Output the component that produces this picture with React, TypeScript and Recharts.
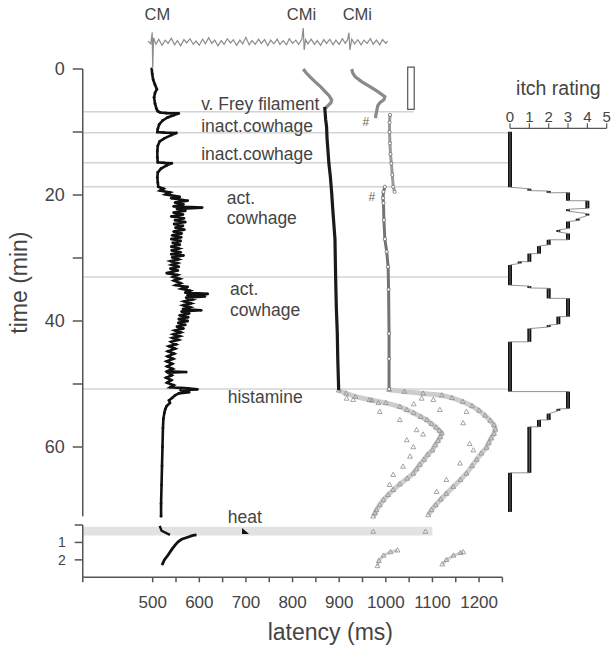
import React from 'react';
import {
    ScatterChart,
    Scatter,
    XAxis,
    YAxis,
    ReferenceLine,
    ReferenceArea,
    ReferenceDot,
} from 'recharts';

const FONT = '"Liberation Sans", Arial, Helvetica, sans-serif';
const TEXT = '#444';
const AXIS = '#555';

// [time (min), latency (ms)]
const cmMain: [number, number][] = [
    [0, 498], [0.8, 499], [1.7, 501], [2.5, 505], [3.2, 509], [3.8, 505], [4.5, 503], [5.5, 505],
    [6.3, 508], [6.7, 511], [6.9, 516], [7.0, 530], [7.05, 556], [7.3, 546], [7.7, 532], [8.2, 521],
    [8.8, 514], [9.5, 511], [10.0, 510], [10.1, 525], [10.15, 551], [10.5, 540], [11.0, 525], [11.5, 515],
    [12.2, 511], [13, 510], [14, 510], [14.8, 511], [14.9, 525], [14.95, 541], [15.3, 530], [15.8, 518],
    [16.4, 511], [17.2, 510], [18, 511], [18.7, 512],
    [19.0, 523], [19.3, 516], [19.6, 537], [19.9, 528], [20.3, 558], [20.5, 540], [20.9, 575], [21.2, 548],
    [21.5, 566], [21.8, 545], [22.0, 606], [22.2, 552], [22.5, 570], [22.8, 545], [23.1, 565], [23.4, 540],
    [23.7, 567], [24.0, 548], [24.3, 570], [24.6, 546], [24.9, 565], [25.2, 549], [25.5, 568], [25.8, 545],
    [26.1, 562], [26.4, 542], [26.7, 561], [27.0, 540], [27.3, 560], [27.6, 543], [27.9, 558], [28.2, 540],
    [28.5, 556], [28.8, 541], [29.1, 560], [29.4, 540], [29.6, 566], [29.9, 542], [30.2, 555], [30.5, 539],
    [30.8, 553], [31.1, 541], [31.4, 556], [31.7, 538], [32.0, 554], [32.4, 530], [32.7, 553], [33.0, 544],
    [33.3, 558], [33.6, 546], [34.0, 560], [34.3, 550], [34.6, 575], [34.9, 562], [35.2, 580], [35.5, 570],
    [35.7, 618], [35.9, 575], [36.1, 612], [36.3, 572], [36.6, 585], [36.9, 568], [37.2, 582], [37.5, 566],
    [37.8, 580], [38.1, 565], [38.3, 604], [38.5, 562], [38.8, 578], [39.1, 558], [39.4, 576], [39.7, 556],
    [40.0, 575], [40.3, 555], [40.6, 570], [40.9, 552], [41.2, 566], [41.5, 548], [41.8, 560], [42.1, 545],
    [42.4, 558], [42.7, 543], [43.0, 555], [43.3, 540], [43.7, 550], [44.0, 535], [44.4, 548], [44.8, 533],
    [45.2, 546], [45.6, 532], [46.0, 544], [46.4, 530], [46.8, 542], [47.2, 531], [47.6, 543], [48.0, 530],
    [48.1, 572], [48.2, 533], [48.6, 541], [49.0, 529], [49.4, 540], [49.8, 531], [50.2, 545], [50.5, 538],
    [50.7, 575], [50.85, 596], [51.0, 560],
    [51.3, 578], [51.5, 556], [51.8, 548], [52.2, 542], [52.6, 535], [53.0, 537], [53.5, 530], [54.0, 527],
    [54.6, 525], [55.5, 523], [57, 522], [60, 521], [63, 520], [66, 519], [69, 518], [71, 518],
];

const cmi1Early: [number, number][] = [
    [0, 823], [0.6, 829], [1.2, 837], [2.0, 848], [2.8, 860], [3.5, 869], [4.2, 878], [4.9, 884],
    [5.4, 882], [5.8, 876], [6.2, 871],
];
const cmi1Late: [number, number][] = [
    [6.0, 869], [7, 870], [8, 871], [9.2, 873], [11, 874], [13, 876], [15, 878], [17, 881], [19.7, 884],
    [22, 886], [25, 889], [27, 891], [31.4, 892], [35, 893], [38, 894], [42, 896], [46, 897], [51, 899],
];
const cmi2Early: [number, number][] = [
    [0, 927], [0.6, 929], [1.2, 934], [2.0, 948], [2.8, 966], [3.6, 983], [4.4, 998], [4.9, 996],
    [5.3, 988], [5.8, 983], [6.5, 981], [7.2, 979], [7.8, 978],
];
const cmi2Mid: [number, number][] = [
    [7.3, 1009], [8.5, 1008], [10, 1008], [11.8, 1009], [13.5, 1010], [15, 1012], [16.8, 1014],
    [18.7, 1016], [19.5, 1019],
];
const cmi2Late: [number, number][] = [
    [18.7, 998], [19.5, 995], [20.5, 994], [21.3, 995], [24, 996], [27, 998], [29, 1002], [31.4, 1005],
    [35, 1006], [42, 1007], [46, 1007], [50.8, 1007],
];
const histA: [number, number][] = [
    [51.0, 899], [51.5, 915], [52.0, 935], [52.5, 965], [53.0, 1000], [53.6, 1030], [54.1, 1045],
    [54.6, 1060], [55.2, 1075], [55.7, 1088], [56.3, 1098], [56.9, 1108], [57.4, 1115], [57.8, 1120],
    [58.4, 1117], [59.0, 1112], [59.7, 1106], [60.5, 1100], [61.2, 1090], [62.0, 1082], [62.8, 1073],
    [63.5, 1066], [64.2, 1059], [65.0, 1046], [65.9, 1030], [66.8, 1016], [67.6, 1005], [68.4, 995],
    [69.2, 987], [70.0, 980], [70.5, 977], [71.0, 973],
];
const histB: [number, number][] = [
    [50.9, 1007], [51.2, 1040], [51.5, 1080], [51.8, 1120], [52.2, 1142], [52.8, 1165], [53.5, 1185],
    [54.2, 1200], [55.0, 1213], [55.8, 1224], [56.5, 1232], [57.2, 1235], [57.9, 1232], [58.6, 1226],
    [59.3, 1221], [60.1, 1216], [61.0, 1205], [62.0, 1195], [63.0, 1185], [64.2, 1173], [65.2, 1160],
    [66.3, 1145], [67.4, 1130], [68.3, 1118], [69.2, 1107], [70.0, 1098], [70.8, 1091],
];
const histScatter: [number, number][] = [
    [52.3, 916], [52.5, 930], [52.6, 970], [53.0, 984], [54.4, 987], [58.9, 1045], [57.3, 1066],
    [60.0, 1059], [63.1, 1037], [64.4, 1016], [61.5, 1052], [52.3, 1077], [52.5, 1102], [56.2, 1166],
    [60.5, 1188], [62.6, 1159], [65.2, 1130], [67.1, 1109], [54.4, 1173], [54.1, 1116], [55.7, 1030],
    [53.2, 1060], [58.0, 1080], [66.0, 1008], [59.5, 1180],
];

// bottom (heat) panel, [time (min), latency (ms)]
const cmHeatHook: [number, number][] = [[0.05, 515], [0.33, 519], [0.57, 537]];
const cmHeatCurve: [number, number][] = [
    [2.3, 520], [2.0, 525], [1.72, 533], [1.4, 541], [1.15, 548], [0.95, 555], [0.82, 562],
    [0.7, 575], [0.6, 586], [0.57, 594],
];
const heatArtifact: [number, number][] = [[0.38, 698]];
const heatGrayA: [number, number][] = [[2.35, 982], [2.05, 985], [1.75, 995], [1.55, 1010], [1.45, 1025]];
const heatGrayB: [number, number][] = [[2.25, 1121], [2.0, 1130], [1.75, 1145], [1.6, 1160], [1.55, 1166]];
const heatBandPoints: [number, number][] = [[0.38, 973], [0.38, 1085]];

// top raw recording, [latency (ms), amplitude]
const traceSamples: [number, number][] = [
    [490, 0.2], [496, -0.4], [499, 2.1], [500, -5.8], [502, 0.9], [507, -0.5], [513, 0.6], [520, -0.7],
    [527, 0.4], [533, -0.3], [540, 0.8], [547, -0.6], [553, 0.3], [560, -0.8], [567, 0.5], [573, -0.2],
    [580, 0.7], [587, -0.5], [593, 0.2], [600, -0.7], [607, 0.6], [613, -0.4], [620, 0.9], [627, -0.3],
    [633, 0.4], [640, -0.8], [647, 0.3], [653, -0.5], [660, 0.7], [667, -0.2], [673, 0.5], [680, -0.7],
    [687, 0.4], [693, -0.4], [700, 1.0], [707, -0.6], [713, 0.3], [720, -0.5], [727, 0.6], [733, -0.3],
    [740, 0.5], [747, -0.8], [753, 0.4], [760, -0.4], [767, 0.6], [773, -0.5], [780, 0.3], [787, -0.6],
    [793, 0.7], [800, -0.3], [807, 0.4], [813, -0.5], [820, 0.6], [823, 3.0], [825, -1.7], [828, 0.5],
    [833, -0.4], [840, 0.6], [847, -0.5], [853, 0.3], [860, -0.7], [867, 0.5], [873, -0.3], [880, 0.6],
    [887, -0.6], [893, 0.4], [900, -0.5], [907, 0.7], [913, -0.3], [918, 0.5], [921, 2.0], [923, -1.7],
    [927, 0.6], [933, -0.4], [940, 0.5], [947, -0.6], [953, 0.4], [960, -0.3], [967, 0.7], [973, -0.5],
    [980, 0.4], [987, -0.6], [993, 0.5], [1000, -0.3], [1004, 0.2],
];

// [rating, start (min), end (min)]
const itchSteps: [number, number, number][] = [
    [0, 9.95, 18.75], [1, 19.0, 19.3], [2, 19.35, 19.65], [3, 19.6, 20.9], [4, 20.9, 22.1],
    [3, 22.25, 22.55], [4, 22.95, 23.25], [3.5, 23.75, 24.05], [3, 24.2, 25.3], [2.5, 25.55, 25.85],
    [3, 26.1, 27.1], [2, 27.1, 27.9], [1.5, 28.1, 29.3], [1, 29.3, 30.6], [0.5, 30.55, 30.85],
    [0, 31.1, 34.3], [1, 34.45, 34.75], [2, 34.8, 36.4], [3, 36.4, 39.3], [2.5, 39.3, 40.5],
    [2, 40.65, 40.95], [1, 41.2, 43.3], [0, 43.3, 51.2], [3, 51.2, 53.9], [2.5, 53.95, 54.25],
    [2, 54.7, 55.7], [1.5, 55.7, 56.8], [1, 56.8, 64.1], [0, 64.1, 70.3],
];

const eventTimes = [6.8, 10.1, 14.9, 18.7, 33.0, 50.8];
const eventLineEnds = [1060, 1263, 1263, 1263, 1263, 1263];

const annotations = [
    { text: 'v. Frey filament', latency: 604, time: 5.56 },
    { text: 'inact.cowhage', latency: 604, time: 9.05 },
    { text: 'inact.cowhage', latency: 604, time: 13.5 },
    { text: 'act.', latency: 659, time: 20.5 },
    { text: 'cowhage', latency: 659, time: 23.65 },
    { text: 'act.', latency: 666, time: 34.9 },
    { text: 'cowhage', latency: 666, time: 38.25 },
    { text: 'histamine', latency: 661, time: 52.06 },
];
const hashMarks = [
    { latency: 957, time: 8.4 },
    { latency: 970, time: 20.3 },
];
const unitLabels = [
    { text: 'CM', latency: 510 },
    { text: 'CMi', latency: 819 },
    { text: 'CMi', latency: 939 },
];

const timeTicks = [0, 10, 20, 30, 40, 50, 60];
const latencyTicks = [350, 500, 550, 600, 650, 700, 750, 800, 850, 900, 950, 1000, 1050, 1100, 1150, 1200, 1250];
const heatTicks = [0, 1, 2];
const itchTicks = [0, 1, 2, 3, 4, 5];

const pts = (pairs: [number, number][]) => pairs.map(([t, ms]) => ({ x: ms, y: t }));

const noDot = () => <g />;
const blackDot = (p: any) => <circle cx={p.cx} cy={p.cy} r={1.4} fill="#111" />;
const ring = (p: any) => (
    <circle cx={p.cx} cy={p.cy} r={1.6} fill="#fff" stroke="#6a6a6a" strokeWidth={0.8} />
);
const openTriangle = (p: any) => (
    <path
        d={`M${p.cx},${p.cy - 2.6}L${p.cx + 2.4},${p.cy + 1.7}L${p.cx - 2.4},${p.cy + 1.7}Z`}
        fill="none"
        stroke="#8e8e8e"
        strokeWidth={0.8}
    />
);
const solidTriangle = (p: any) => (
    <path
        d={`M${p.cx - 3},${p.cy - 3.5}L${p.cx + 4},${p.cy + 2.5}L${p.cx - 3},${p.cy + 2.5}Z`}
        fill="#111"
    />
);

const W = 611;
const H = 651;
const overlay: React.CSSProperties = { position: 'absolute', left: 0, top: 0 };

const TraceChart = () => (
    <div style={overlay}>
        <ScatterChart width={W} height={H} margin={{ top: 28, right: 102.6, bottom: 581, left: 82.75 }}>
            <XAxis type="number" dataKey="x" domain={[350, 1263]} hide />
            <YAxis type="number" dataKey="y" domain={[-6, 3]} hide />
            <Scatter
                data={traceSamples.map(([ms, a]) => ({ x: ms, y: a }))}
                line={{ stroke: '#8c8c8c', strokeWidth: 1.2 }}
                shape={noDot}
                fill="#8c8c8c"
                isAnimationActive={false}
            />
            {unitLabels.map((u, i) => (
                <ReferenceDot
                    key={i}
                    x={u.latency}
                    y={6}
                    r={0}
                    fill="none"
                    stroke="none"
                    ifOverflow="visible"
                    label={{ value: u.text, position: 'center', fontSize: 16.5, fill: TEXT }}
                />
            ))}
        </ScatterChart>
    </div>
);

const MainChart = () => (
    <div style={overlay}>
        <ScatterChart width={W} height={H} margin={{ top: 69, right: 102.6, bottom: 134.7, left: 0 }}>
            <XAxis type="number" dataKey="x" domain={[350, 1263]} hide />
            <YAxis
                type="number"
                dataKey="y"
                domain={[0, 71]}
                reversed
                width={82.75}
                ticks={timeTicks}
                interval={0}
                tickFormatter={(v: number) => (v % 20 === 0 ? String(v) : '')}
                tick={{ fontSize: 18, fill: TEXT }}
                tickSize={10}
                tickMargin={8}
                axisLine={{ stroke: AXIS, strokeWidth: 1.5 }}
                tickLine={{ stroke: AXIS, strokeWidth: 1.5 }}
            />
            {eventTimes.map((t, i) => (
                <ReferenceLine
                    key={i}
                    segment={[{ x: 350, y: t }, { x: eventLineEnds[i], y: t }]}
                    stroke="#d4d4d4"
                    strokeWidth={1.5}
                />
            ))}
            <ReferenceArea
                x1={1047}
                x2={1061}
                y1={-0.3}
                y2={6.4}
                ifOverflow="visible"
                fill="#fff"
                fillOpacity={1}
                stroke="#555"
                strokeWidth={1.2}
            />
            <Scatter data={pts(histA)} line={{ stroke: '#cdcdcd', strokeWidth: 5 }} shape={openTriangle} fill="#cdcdcd" isAnimationActive={false} />
            <Scatter data={pts(histB)} line={{ stroke: '#cdcdcd', strokeWidth: 5 }} shape={openTriangle} fill="#cdcdcd" isAnimationActive={false} />
            <Scatter data={pts(histScatter)} shape={openTriangle} fill="#8e8e8e" isAnimationActive={false} />
            <Scatter data={pts(cmi1Early)} line={{ stroke: '#8a8a8a', strokeWidth: 3.2 }} shape={noDot} fill="#8a8a8a" isAnimationActive={false} />
            <Scatter data={pts(cmi1Late)} line={{ stroke: '#1a1a1a', strokeWidth: 3.2 }} shape={noDot} fill="#1a1a1a" isAnimationActive={false} />
            <Scatter data={pts(cmi2Early)} line={{ stroke: '#8a8a8a', strokeWidth: 3.2 }} shape={noDot} fill="#8a8a8a" isAnimationActive={false} />
            <Scatter data={pts(cmi2Mid)} line={{ stroke: '#9a9a9a', strokeWidth: 3 }} shape={ring} fill="#9a9a9a" isAnimationActive={false} />
            <Scatter data={pts(cmi2Late)} line={{ stroke: '#747474', strokeWidth: 3 }} shape={ring} fill="#747474" isAnimationActive={false} />
            <Scatter data={pts(cmMain)} line={{ stroke: '#111', strokeWidth: 2.6 }} shape={blackDot} fill="#111" isAnimationActive={false} />
            {annotations.map((a, i) => (
                <ReferenceDot
                    key={`a${i}`}
                    x={a.latency}
                    y={a.time}
                    r={0}
                    fill="none"
                    stroke="none"
                    label={{ value: a.text, position: 'right', offset: 0, fontSize: 17.5, fill: TEXT }}
                />
            ))}
            {hashMarks.map((h, i) => (
                <ReferenceDot
                    key={`h${i}`}
                    x={h.latency}
                    y={h.time}
                    r={0}
                    fill="none"
                    stroke="none"
                    label={{ value: '#', position: 'center', fontSize: 12, fill: '#666' }}
                />
            ))}
            <ReferenceDot
                x={212}
                y={33.9}
                r={0}
                fill="none"
                stroke="none"
                ifOverflow="visible"
                label={{ value: 'time (min)', position: 'center', angle: -90, fontSize: 23, fill: TEXT }}
            />
        </ScatterChart>
    </div>
);

const HeatChart = () => (
    <div style={overlay}>
        <ScatterChart width={W} height={H} margin={{ top: 525, right: 108.6, bottom: 13.7, left: 0 }}>
            <XAxis
                type="number"
                dataKey="x"
                domain={[350, 1250]}
                ticks={latencyTicks}
                interval={0}
                tickFormatter={(v: number) => (v >= 500 && v <= 1200 && v % 100 === 0 ? String(v) : '')}
                tick={{ fontSize: 17, fill: TEXT }}
                tickSize={5}
                tickMargin={13.5}
                height={60}
                axisLine={{ stroke: AXIS, strokeWidth: 1.5 }}
                tickLine={{ stroke: AXIS, strokeWidth: 1.5 }}
            />
            <YAxis
                type="number"
                dataKey="y"
                domain={[0, 3]}
                reversed
                width={82.75}
                ticks={heatTicks}
                interval={0}
                tickFormatter={(v: number) => (v === 0 ? '' : String(v))}
                tick={{ fontSize: 14, fill: TEXT }}
                tickSize={8}
                tickMargin={9}
                axisLine={{ stroke: AXIS, strokeWidth: 1.5 }}
                tickLine={{ stroke: AXIS, strokeWidth: 1.5 }}
            />
            <ReferenceArea x1={350} x2={1100} y1={0.1} y2={0.6} fill="#e2e2e2" fillOpacity={1} stroke="none" />
            <Scatter data={pts(heatBandPoints)} shape={openTriangle} fill="#8e8e8e" isAnimationActive={false} />
            <Scatter data={pts(heatGrayA)} line={{ stroke: '#d0d0d0', strokeWidth: 3 }} shape={openTriangle} fill="#d0d0d0" isAnimationActive={false} />
            <Scatter data={pts(heatGrayB)} line={{ stroke: '#d0d0d0', strokeWidth: 3 }} shape={openTriangle} fill="#d0d0d0" isAnimationActive={false} />
            <Scatter data={pts(cmHeatHook)} line={{ stroke: '#111', strokeWidth: 2.4 }} shape={noDot} fill="#111" isAnimationActive={false} />
            <Scatter data={pts(cmHeatCurve)} line={{ stroke: '#111', strokeWidth: 2.8 }} shape={noDot} fill="#111" isAnimationActive={false} />
            <Scatter data={pts(heatArtifact)} shape={solidTriangle} fill="#111" isAnimationActive={false} />
            <ReferenceDot
                x={661}
                y={-0.46}
                r={0}
                fill="none"
                stroke="none"
                ifOverflow="visible"
                label={{ value: 'heat', position: 'right', offset: 0, fontSize: 17.5, fill: TEXT }}
            />
            <ReferenceDot
                x={881}
                y={6.14}
                r={0}
                fill="none"
                stroke="none"
                ifOverflow="visible"
                label={{ value: 'latency (ms)', position: 'center', fontSize: 23, fill: TEXT }}
            />
        </ScatterChart>
    </div>
);

const ItchChart = () => (
    <div style={overlay}>
        <ScatterChart width={W} height={H} margin={{ top: 108.3, right: 4.3, bottom: 134.7, left: 510 }}>
            <XAxis
                type="number"
                dataKey="x"
                orientation="top"
                domain={[0, 5]}
                ticks={itchTicks}
                interval={0}
                tick={{ fontSize: 15, fill: TEXT }}
                tickSize={5}
                tickMargin={1}
                height={20}
                axisLine={{ stroke: AXIS, strokeWidth: 1.2 }}
                tickLine={{ stroke: AXIS, strokeWidth: 1.2 }}
                label={{ value: 'itch rating', position: 'top', offset: 13, fontSize: 19.5, fill: TEXT }}
            />
            <YAxis type="number" dataKey="y" domain={[9.4, 71]} reversed hide />
            <Scatter
                data={itchSteps.flatMap(([r, s, e]) => [{ x: r, y: s }, { x: r, y: e }])}
                line={{ stroke: '#777', strokeWidth: 0.8 }}
                shape={noDot}
                fill="#777"
                isAnimationActive={false}
            />
            {itchSteps.map(([r, s, e], i) => (
                <ReferenceLine
                    key={i}
                    segment={[{ x: r, y: s }, { x: r, y: e }]}
                    stroke="#111"
                    strokeWidth={4}
                />
            ))}
        </ScatterChart>
    </div>
);

export default function App() {
    return (
        <div
            style={{
                position: 'absolute',
                left: 0,
                top: 0,
                width: W,
                height: H,
                background: '#fff',
                fontFamily: FONT,
                overflow: 'hidden',
            }}
        >
            <MainChart />
            <HeatChart />
            <ItchChart />
            <TraceChart />
        </div>
    );
}
